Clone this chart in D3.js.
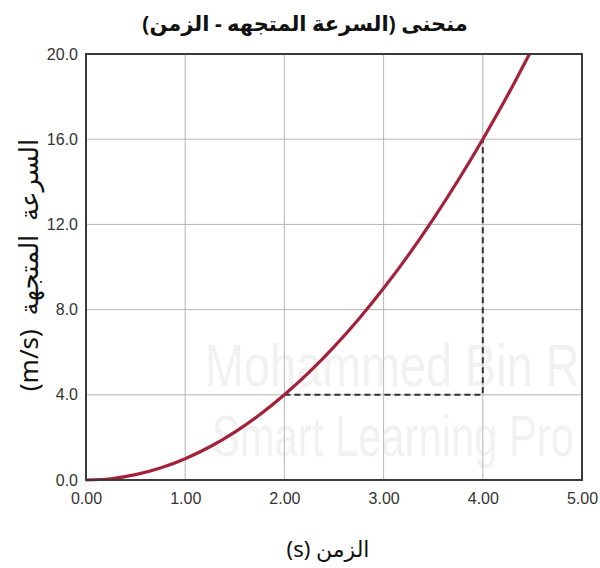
<!DOCTYPE html>
<html>
<head>
<meta charset="utf-8">
<script src="https://cdn.jsdelivr.net/npm/d3@7"></script>
<style>
  body { margin: 0; background: #fff; }
  text { font-family: "Liberation Sans", Arial, sans-serif; }
</style>
</head>
<body>
<div id="chart"></div>
<script>
// chart data
const timeTicks = [0, 1, 2, 3, 4, 5]
const speedTicks = [0, 4, 8, 12, 16, 20]
// points (s, m/s)
const curveTime = [0, 0.25, 0.5, 0.75, 1, 1.25, 1.5, 1.75, 2, 2.25, 2.5, 2.75, 3, 3.25, 3.5, 3.75, 4, 4.25, 4.47]
const curveSpeed = [0, 0.06, 0.25, 0.56, 1, 1.56, 2.25, 3.06, 4, 5.06, 6.25, 7.56, 9, 10.56, 12.25, 14.06, 16, 18.06, 20]
// dashed guide: (2,4) -> (4,4) -> (4,16)
const guideTime = [2, 4, 4]
const guideSpeed = [4, 4, 16]

const title = 'منحنى (السرعة المتجهه - الزمن)'
const xTitle = 'الزمن (s)'
const yTitle = 'السرعة المتجهة (m/s)'

const width = 600,
height = 568

const svg = d3.select('#chart')
  .append('svg')
  .attr('width', width)
  .attr('height', height)

const x = d3.scaleLinear().domain([0, 5]).range([86, 582])
const y = d3.scaleLinear().domain([0, 20]).range([480, 54])

// faint watermark behind the plot (squeezed horizontally)
const wm = svg.append('g').attr('fill', '#f1f1f1')
wm.append('text')
  .attr('transform', 'translate(205,386) scale(0.78,1)')
  .attr('font-size', 60)
  .text('Mohammed Bin R')
wm.append('text')
  .attr('transform', 'translate(212,456) scale(0.72,1)')
  .attr('font-size', 58)
  .text('Smart Learning Pro')

// grid
svg.append('g')
  .selectAll('line')
  .data(timeTicks.slice(1, -1))
  .join('line')
  .attr('x1', d => x(d)).attr('x2', d => x(d))
  .attr('y1', y(0)).attr('y2', y(20))
  .attr('stroke', '#b5b5b5')
  .attr('stroke-width', 1)

svg.append('g')
  .selectAll('line')
  .data(speedTicks.slice(1, -1))
  .join('line')
  .attr('x1', x(0)).attr('x2', x(5))
  .attr('y1', d => y(d)).attr('y2', d => y(d))
  .attr('stroke', '#b5b5b5')
  .attr('stroke-width', 1)

// axes (labels only, frame drawn below)
const xAxis = svg.append('g')
  .attr('transform', `translate(0,${y(0)})`)
  .call(d3.axisBottom(x).tickValues(timeTicks).tickFormat(d3.format('.2f')).tickSize(0).tickPadding(13))
xAxis.select('.domain').remove()
xAxis.selectAll('text')
  .attr('font-size', 16)
  .attr('fill', '#333')
  .style('font-family', '"Liberation Sans", Arial, sans-serif')

const yAxis = svg.append('g')
  .attr('transform', `translate(${x(0)},0)`)
  .call(d3.axisLeft(y).tickValues(speedTicks).tickFormat(d3.format('.1f')).tickSize(0).tickPadding(8))
yAxis.select('.domain').remove()
yAxis.selectAll('text')
  .attr('font-size', 16)
  .attr('fill', '#333')
  .style('font-family', '"Liberation Sans", Arial, sans-serif')

// dashed guide lines
const guide = d3.line()
  .x((d, i) => x(guideTime[i]))
  .y((d, i) => y(guideSpeed[i]))
svg.append('path')
  .attr('d', guide(guideTime))
  .attr('fill', 'none')
  .attr('stroke', '#333')
  .attr('stroke-width', 2)
  .attr('stroke-dasharray', '6,4')

// curve
const line = d3.line()
  .x((d, i) => x(curveTime[i]))
  .y((d, i) => y(curveSpeed[i]))
  .curve(d3.curveMonotoneX)
svg.append('path')
  .attr('d', line(curveTime))
  .attr('fill', 'none')
  .attr('stroke', '#a4213a')
  .attr('stroke-width', 3.2)

// frame
svg.append('rect')
  .attr('x', x(0)).attr('y', y(20))
  .attr('width', x(5) - x(0))
  .attr('height', y(0) - y(20))
  .attr('fill', 'none')
  .attr('stroke', '#3a3a3a')
  .attr('stroke-width', 2)

// titles (right-to-left)
svg.append('text')
  .attr('x', 305).attr('y', 31)
  .attr('direction', 'rtl')
  .attr('text-anchor', 'middle')
  .attr('font-size', 21)
  .attr('font-weight', 'bold')
  .attr('fill', '#111')
  .style('font-family', '"Noto Sans", "DejaVu Sans", sans-serif')
  .text(title)

svg.append('text')
  .attr('x', 328).attr('y', 557)
  .attr('direction', 'rtl')
  .attr('text-anchor', 'middle')
  .attr('font-size', 22)
  .attr('fill', '#111')
  .style('font-family', '"Noto Sans", "DejaVu Sans", sans-serif')
  .text(xTitle)

svg.append('text')
  .attr('transform', 'translate(38,265) rotate(-90)')
  .attr('direction', 'rtl')
  .attr('text-anchor', 'middle')
  .attr('font-size', 26)
  .attr('word-spacing', 7)
  .attr('fill', '#111')
  .style('font-family', '"Noto Sans", "DejaVu Sans", sans-serif')
  .text(yTitle)
</script>
</body>
</html>
